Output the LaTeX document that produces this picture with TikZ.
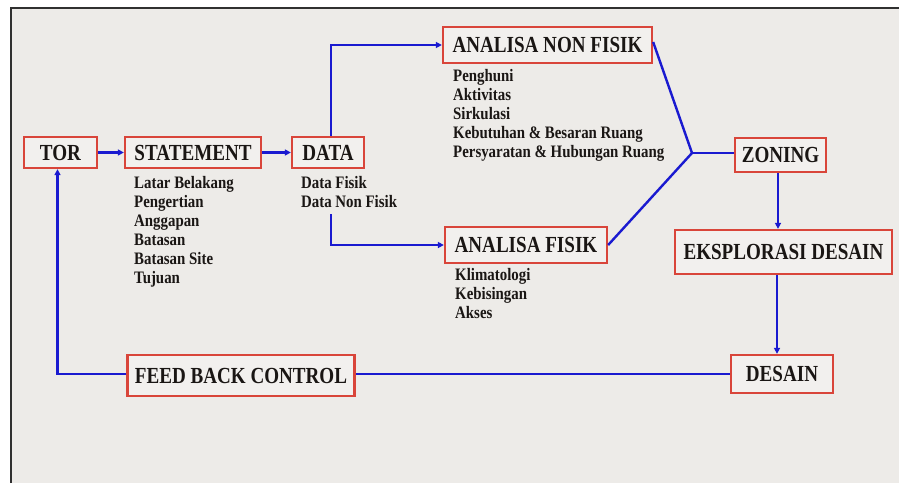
\documentclass[tikz,border=0pt]{standalone}
\usepackage{fontspec}
\setmainfont{Liberation Serif}[FakeStretch=0.85]
\newfontfamily\titlefam{Liberation Serif}[FakeStretch=0.83]
\newfontfamily\listfam{Liberation Serif}[FakeStretch=0.85]
\usetikzlibrary{arrows.meta}
\definecolor{bg}{HTML}{EDEBE8}
\definecolor{boxfill}{HTML}{F2F0EE}
\definecolor{boxred}{HTML}{D9453A}
\definecolor{lineblue}{HTML}{1A1AD0}
\definecolor{frame}{HTML}{303030}
\definecolor{txt}{HTML}{1A1614}
\tikzset{
  stepbox/.style={draw=boxred, line width=2.3pt, fill=boxfill, inner sep=0pt,
    text=txt, font=\titlefam\bfseries\fontsize{23}{25}\selectfont},
  listtext/.style={anchor=north west, inner sep=0pt, align=left, text=txt,
    font=\listfam\bfseries\fontsize{17.5}{19}\selectfont},
  conn/.style={draw=lineblue, line width=2.4pt},
  arr/.style={conn, -{Triangle[length=6pt,width=6pt]}}
}
\begin{document}
\begin{tikzpicture}[x=1pt,y=-1pt]
\useasboundingbox (0,0) rectangle (899,483);
\fill[white] (0,0) rectangle (899,483);
\fill[bg] (11,8) rectangle (899,483);
\draw[frame, line width=2pt] (11,483) -- (11,8) -- (899,8);

% boxes
\node[stepbox, minimum width=73pt, minimum height=31pt] (tor) at (60.5,152.5) {TOR};
\node[stepbox, minimum width=136pt, minimum height=31pt] (stm) at (193,152.5) {STATEMENT};
\node[stepbox, minimum width=72pt, minimum height=31pt] (dat) at (328,152.5) {DATA};
\node[stepbox, minimum width=209pt, minimum height=36pt] (anf) at (547.5,45) {ANALISA NON FISIK};
\node[stepbox, minimum width=162pt, minimum height=36pt] (af) at (526,245) {ANALISA FISIK};
\node[stepbox, minimum width=91pt, minimum height=34pt] (zon) at (780.5,155) {ZONING};
\node[stepbox, minimum width=217pt, minimum height=44pt] (eks) at (783.5,252) {EKSPLORASI DESAIN};
\node[stepbox, minimum width=227pt, minimum height=41pt] (fbc) at (241,375.5) {FEED BACK CONTROL};
\node[stepbox, minimum width=102pt, minimum height=38pt] (des) at (782,374) {DESAIN};

% lists
\node[listtext] (stml) at (134,176.5) {Latar Belakang\\Pengertian\\Anggapan\\Batasan\\Batasan Site\\Tujuan};
\node[listtext] (datl) at (301,176.5) {Data Fisik\\Data Non Fisik};
\node[listtext] (anfl) at (453,69.5) {Penghuni\\Aktivitas\\Sirkulasi\\Kebutuhan \& Besaran Ruang\\Persyaratan \& Hubungan Ruang};
\node[listtext] (afl) at (455,268) {Klimatologi\\Kebisingan\\Akses};

% connectors
\coordinate (dlow) at (331,214);
\coordinate (j) at (692,153);
\draw[arr] (tor.east) -- (stm.west);
\draw[arr] (stm.east) -- (dat.west);
\draw[arr] ([xshift=3pt]dat.north) |- (anf.west);
\draw[arr] (dlow) |- (af.west);
\draw[conn] ([yshift=3pt]anf.east) -- (j);
\draw[conn] (af.east) -- (j);
\draw[conn] (j) -- (j -| zon.west);
\draw[arr] ([xshift=-2.5pt]zon.south) -- ([xshift=-2.5pt]zon.south |- eks.north);
\draw[arr] ([xshift=-5pt]des.north |- eks.south) -- ([xshift=-5pt]des.north);
\draw[conn] (des.west) -- (des.west -| fbc.east);
\draw[arr] (fbc.west |- des.west) -| ([xshift=-3pt]tor.south);
\end{tikzpicture}
\end{document}
